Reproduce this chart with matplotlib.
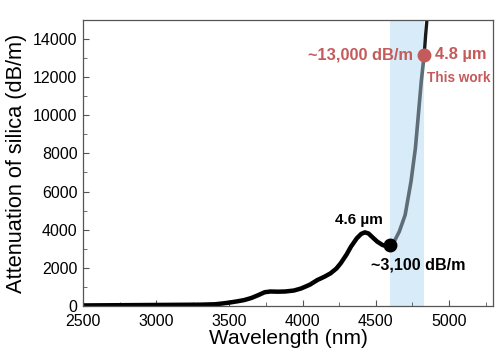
import matplotlib
matplotlib.use("Agg")
import matplotlib.pyplot as plt
from matplotlib.ticker import MultipleLocator

plt.rcParams['font.family'] = ['Liberation Sans', 'DejaVu Sans']

# black segment: measured attenuation up to 4.6 um
wl_black = [2500, 2700, 2900, 3100, 3300, 3400, 3450, 3500, 3550, 3600, 3650, 3700, 3740, 3780,
            3830, 3880, 3940, 3990, 4050, 4100, 4150, 4190, 4230, 4260, 4300, 4330, 4370,
            4400, 4425, 4450, 4480, 4510, 4545, 4580, 4600]
att_black = [30, 40, 50, 60, 70, 90, 130, 180, 240, 310, 420, 580, 720, 760,
             750, 760, 810, 920, 1120, 1360, 1540, 1710, 1960, 2240, 2700, 3110, 3550,
             3780, 3860, 3800, 3580, 3370, 3200, 3110, 3200]
# gray segment: the 4.6-4.8 um window of this work
wl_gray = [4600, 4630, 4660, 4700, 4740, 4770, 4790, 4810, 4830]
att_gray = [3200, 3450, 3900, 4770, 6520, 8270, 10000, 11760, 13160]
# black continuation beyond 4.8 um
wl_tail = [4830, 4840, 4850, 4860]
att_tail = [13160, 14210, 15100, 16000]

band = (4600, 4830)
pt_black = (4600, 3200)
pt_red = (4828, 13160)

red = '#c55a5a'

fig = plt.figure(figsize=(5, 3.6), dpi=100)
ax = fig.add_axes([0.166, 0.15, 0.820, 0.795])

ax.axvspan(band[0], band[1], color='#d8ebf8', zorder=0, lw=0)
ax.plot(wl_black, att_black, color='black', lw=3.2, solid_capstyle='round',
        solid_joinstyle='round', zorder=2)
ax.plot(wl_gray, att_gray, color='#5e6d77', lw=2.6, solid_joinstyle='round', zorder=2)
ax.plot(wl_tail, att_tail, color='#1a1a1a', lw=2.4, zorder=2)
ax.plot(*pt_black, 'o', color='black', ms=9, zorder=3)
ax.plot(*pt_red, 'o', color=red, ms=9, zorder=3)

ax.text(4384, 4500, '4.6 µm', ha='center', va='center', fontsize=11, fontweight='bold')
ax.text(4464, 2150, '~3,100 dB/m', ha='left', va='center', fontsize=11.6, fontweight='bold')
ax.text(4755, 13160, '~13,000 dB/m', ha='right', va='center', fontsize=11.8, fontweight='bold', color=red)
ax.text(4905, 13160, '4.8 µm', ha='left', va='center', fontsize=11.8, fontweight='bold', color=red)
ax.text(4846, 11950, 'This work', ha='left', va='center', fontsize=9.8, fontweight='bold', color=red)

ax.set_xlim(2500, 5300)
ax.set_ylim(0, 15000)
ax.xaxis.set_major_locator(MultipleLocator(500))
ax.xaxis.set_minor_locator(MultipleLocator(250))
ax.yaxis.set_major_locator(MultipleLocator(2000))
ax.yaxis.set_minor_locator(MultipleLocator(1000))
ax.tick_params(which='both', direction='in', color='#555555', labelsize=11.5)
ax.tick_params(axis='x', pad=6)
ax.tick_params(axis='y', pad=4)
ax.tick_params(which='major', length=4)
ax.tick_params(which='minor', length=3)
for s in ax.spines.values():
    s.set_color('#555555')
    s.set_linewidth(0.9)

ax.set_xlabel('Wavelength (nm)', fontsize=15, labelpad=0)
ax.set_ylabel('Attenuation of silica (dB/m)', fontsize=15.7, labelpad=4)

fig.savefig('out.png', dpi=100)
